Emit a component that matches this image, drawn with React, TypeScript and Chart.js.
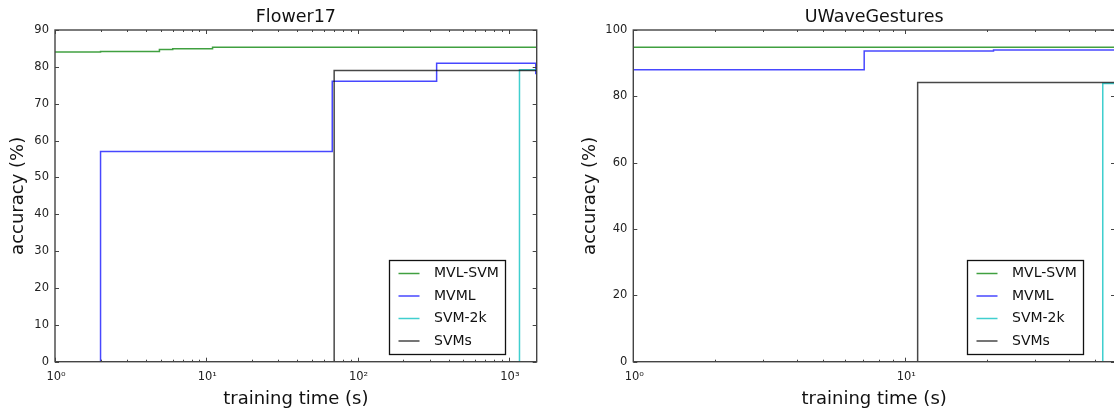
import React, { useEffect, useRef } from 'react';
import { Chart, registerables } from 'chart.js';

Chart.register(...registerables);

const FONT = '"DejaVu Sans", "Liberation Sans", sans-serif';

// ---------- Series names & colours ----------
const seriesLabels = ['MVL-SVM', 'MVML', 'SVM-2k', 'SVMs'];
const seriesColors = [
  'rgba(0,128,0,0.75)',
  'rgba(0,0,255,0.72)',
  'rgba(0,191,191,0.75)',
  'rgba(0,0,0,0.72)',
];

// ---------- Flower17 ----------
const flowerTitle = 'Flower17';
const flowerXMax = 1527;
const flowerXTicks = [1, 10, 100, 1000];
const flowerXTickLabels = ['10⁰', '10¹', '10²', '10³'];
const flowerYTicks = [0, 10, 20, 30, 40, 50, 60, 70, 80, 90];
const flowerMvlSvmX = [1, 2, 4.9, 6, 11, 1527];
const flowerMvlSvmY = [84.0, 84.2, 84.7, 84.9, 85.3, 85.3];
const flowerMvmlX = [1, 2, 68, 333, 1505, 1527];
const flowerMvmlY = [0, 57, 76.1, 81.0, 78.2, 78.2];
const flowerSvm2kX = [1, 1175, 1527];
const flowerSvm2kY = [0, 79.2, 79.2];
const flowerSvmsX = [1, 70, 1527];
const flowerSvmsY = [0, 79.0, 79.0];

// ---------- UWaveGestures ----------
const uwaveTitle = 'UWaveGestures';
const uwaveXMax = 59;
const uwaveXTicks = [1, 10];
const uwaveXTickLabels = ['10⁰', '10¹'];
const uwaveYTicks = [0, 20, 40, 60, 80, 100];
const uwaveMvlSvmX = [1, 59];
const uwaveMvlSvmY = [94.8, 94.8];
const uwaveMvmlX = [1, 7.06, 21.1, 59];
const uwaveMvmlY = [88.0, 93.7, 94.0, 94.0];
const uwaveSvm2kX = [1, 53.2, 59];
const uwaveSvm2kY = [0, 83.9, 83.9];
const uwaveSvmsX = [1, 11.1, 59];
const uwaveSvmsY = [0, 84.2, 84.2];

type Series = { x: number[]; y: number[] };

type PanelProps = {
  title: string;
  xMax: number;
  xTicks: number[];
  xTickLabels: string[];
  yTicks: number[];
  series: Series[];
  width: number;
  left: number;
  yAxisWidth: number;
  padRight: number;
  yTitlePad: number;
};

const framePlugin = {
  id: 'frameTicks',
  afterDatasetsDraw(chart: any, _args: any, opts: any) {
    const { ctx, chartArea } = chart;
    const xs = chart.scales.x;
    const ys = chart.scales.y;
    const { left, right, top, bottom } = chartArea;
    ctx.save();
    ctx.strokeStyle = '#444';
    ctx.lineWidth = 1;
    const xMax = xs.max;
    const drawX = (v: number, len: number) => {
      const px = Math.round(xs.getPixelForValue(v)) + 0.5;
      ctx.beginPath();
      ctx.moveTo(px, bottom);
      ctx.lineTo(px, bottom - len);
      ctx.moveTo(px, top);
      ctx.lineTo(px, top + len);
      ctx.stroke();
    };
    for (let d = 1; d <= xMax; d *= 10) {
      drawX(d, 4);
      for (let k = 2; k <= 9; k++) {
        const v = k * d;
        if (v < xMax) drawX(v, 2);
      }
    }
    ys.ticks.forEach((t: any) => {
      const py = Math.round(ys.getPixelForValue(t.value)) + 0.5;
      ctx.beginPath();
      ctx.moveTo(left, py);
      ctx.lineTo(left + 4, py);
      ctx.moveTo(right, py);
      ctx.lineTo(right - 4, py);
      ctx.stroke();
    });
    ctx.strokeStyle = '#444';
    ctx.lineWidth = 1.4;
    ctx.strokeRect(left, top, right - left, bottom - top);
    // x tick labels, placed with the x scale
    const ticks: number[] = opts.xTicks || [];
    const labels: string[] = opts.xTickLabels || [];
    ctx.fillStyle = '#222';
    ctx.font = `11.5px ${FONT}`;
    ctx.textAlign = 'center';
    ctx.textBaseline = 'middle';
    ticks.forEach((v, i) => {
      ctx.fillText(labels[i], xs.getPixelForValue(v) + 1, bottom + 15);
    });
    ctx.restore();
  },
};

const legendPlugin = {
  id: 'boxLegend',
  afterDraw(chart: any) {
    const { ctx, chartArea } = chart;
    const w = 116;
    const h = 94;
    const x0 = Math.round(chartArea.right - 32 - w) + 0.5;
    const y0 = Math.round(chartArea.bottom - 7.5 - h) + 0.5;
    ctx.save();
    ctx.fillStyle = '#fff';
    ctx.fillRect(x0, y0, w, h);
    ctx.strokeStyle = '#111';
    ctx.lineWidth = 1.3;
    ctx.strokeRect(x0, y0, w, h);
    chart.data.datasets.forEach((ds: any, i: number) => {
      const cy = y0 + 13 + i * 22.5;
      ctx.strokeStyle = ds.borderColor;
      ctx.lineWidth = 1.5;
      ctx.beginPath();
      ctx.moveTo(x0 + 9, cy);
      ctx.lineTo(x0 + 30, cy);
      ctx.stroke();
      ctx.fillStyle = '#111';
      ctx.font = `14px ${FONT}`;
      ctx.textBaseline = 'middle';
      ctx.textAlign = 'left';
      ctx.fillText(ds.label, x0 + 44.5, cy);
    });
    ctx.restore();
  },
};

function Panel(p: PanelProps) {
  const ref = useRef<HTMLCanvasElement | null>(null);
  useEffect(() => {
    if (!ref.current) return;
    const datasets = p.series.map((s, i) => ({
      label: seriesLabels[i],
      data: s.x.map((x, j) => ({ x, y: s.y[j] })),
      borderColor: seriesColors[i],
      backgroundColor: seriesColors[i],
      borderWidth: 1.5,
      pointRadius: 0,
      pointHoverRadius: 0,
      stepped: 'before' as const,
      fill: false,
      order: p.series.length - i,
    }));
    const chart = new Chart(ref.current, {
      type: 'line',
      data: { datasets },
      plugins: [framePlugin, legendPlugin],
      options: {
        responsive: false,
        animation: false,
        devicePixelRatio: 1,
        layout: { padding: { left: 0, right: p.padRight, top: 0, bottom: 0 } },
        plugins: {
          legend: { display: false },
          tooltip: { enabled: false },
          title: {
            display: true,
            fullSize: false,
            text: p.title,
            color: '#111',
            font: { family: FONT, size: 17.5, weight: 'normal', lineHeight: 1.2 },
            padding: { top: 6.5, bottom: 2.5 },
          },
          frameTicks: { xTicks: p.xTicks, xTickLabels: p.xTickLabels },
        },
        scales: {
          x: {
            type: 'logarithmic',
            position: 'bottom',
            min: 1,
            max: p.xMax,
            afterBuildTicks: (scale: any) => {
              scale.ticks = p.xTicks.map((v) => ({ value: v }));
            },
            grid: { display: false, drawTicks: false },
            border: { display: false },
            ticks: { display: false },
            title: {
              display: true,
              text: 'training time (s)',
              color: '#111',
              font: { family: FONT, size: 18, lineHeight: 1.2 },
              padding: { top: 26.7, bottom: 0 },
            },
          },
          y: {
            type: 'linear',
            min: 0,
            max: p.yTicks[p.yTicks.length - 1],
            afterBuildTicks: (scale: any) => {
              scale.ticks = p.yTicks.map((v) => ({ value: v }));
            },
            afterFit: (scale: any) => {
              scale.width = p.yAxisWidth;
            },
            grid: { display: false, drawTicks: false },
            border: { display: false },
            ticks: {
              padding: 6,
              color: '#222',
              font: { family: FONT, size: 11.5 },
              callback: (v: any) => String(v),
            },
            title: {
              display: true,
              text: 'accuracy (%)',
              color: '#111',
              font: { family: FONT, size: 18 },
              padding: { top: p.yTitlePad, bottom: 0 },
            },
          },
        },
      } as any,
    });
    return () => chart.destroy();
  }, []);
  return (
    <canvas
      ref={ref}
      width={p.width}
      height={410}
      style={{ position: 'absolute', left: p.left, top: 0, width: p.width, height: 410 }}
    />
  );
}

export default function App() {
  return (
    <div
      style={{
        position: 'fixed',
        left: 0,
        top: 0,
        width: 1114,
        height: 410,
        overflow: 'hidden',
        background: '#fff',
      }}
    >
      <Panel
        title={flowerTitle}
        xMax={flowerXMax}
        xTicks={flowerXTicks}
        xTickLabels={flowerXTickLabels}
        yTicks={flowerYTicks}
        series={[
          { x: flowerMvlSvmX, y: flowerMvlSvmY },
          { x: flowerMvmlX, y: flowerMvmlY },
          { x: flowerSvm2kX, y: flowerSvm2kY },
          { x: flowerSvmsX, y: flowerSvmsY },
        ]}
        width={560}
        left={0}
        yAxisWidth={55}
        padRight={23.3}
        yTitlePad={7.2}
      />
      <Panel
        title={uwaveTitle}
        xMax={uwaveXMax}
        xTicks={uwaveXTicks}
        xTickLabels={uwaveXTickLabels}
        yTicks={uwaveYTicks}
        series={[
          { x: uwaveMvlSvmX, y: uwaveMvlSvmY },
          { x: uwaveMvmlX, y: uwaveMvmlY },
          { x: uwaveSvm2kX, y: uwaveSvm2kY },
          { x: uwaveSvmsX, y: uwaveSvmsY },
        ]}
        width={580}
        left={560}
        yAxisWidth={73.3}
        padRight={25}
        yTitlePad={19.2}
      />
    </div>
  );
}
